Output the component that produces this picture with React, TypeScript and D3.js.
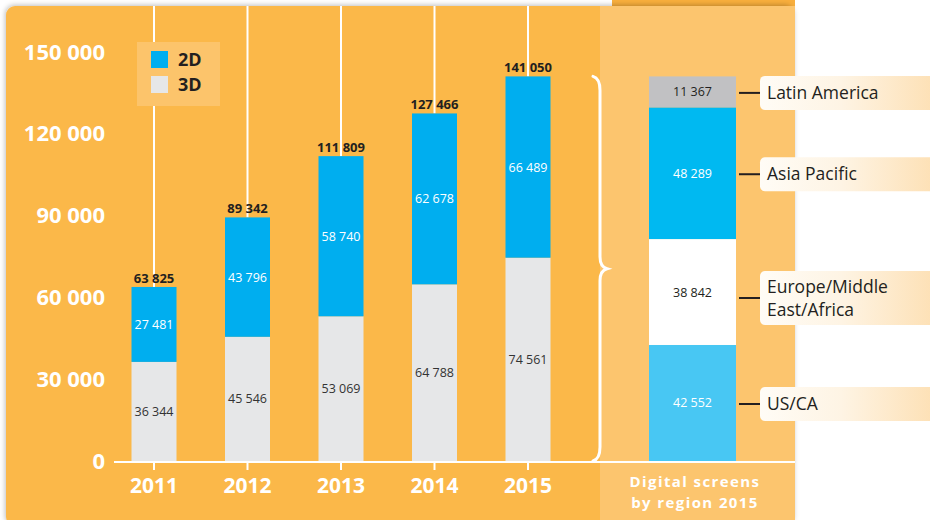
import * as d3 from "d3";

const years = ["2011", "2012", "2013", "2014", "2015"];
const values3D = [36344, 45546, 53069, 64788, 74561];
const values2D = [27481, 43796, 58740, 62678, 66489];
const yTicks = [0, 30000, 60000, 90000, 120000, 150000];

// 2015 split by region, bottom to top
const regions = ["US/CA", "Europe/Middle East/Africa", "Asia Pacific", "Latin America"];
const regionLines = [["US/CA"], ["Europe/Middle", "East/Africa"], ["Asia Pacific"], ["Latin America"]];
const regionValues = [42552, 38842, 48289, 11367];
const regionColors = ["#48C7F3", "#FFFFFF", "#00B9F1", "#C1C1C3"];
const regionText = ["#FFFFFF", "#231F20", "#FFFFFF", "#231F20"];
const panelTitle = ["Digital screens", "by region 2015"];

const ORANGE = "#FBB84A";
const LIGHT = "#FCC56E";
const BLUE = "#00AEEF";
const GREY = "#E6E7E8";
const DARK = "#231F20";
const FONT = "'Open Sans', sans-serif";

const fmt = d3.formatLocale({ decimal: ".", thousands: " ", grouping: [3], currency: ["", ""] }).format(",");

export default function App() {
  const width = 930;
  const height = 520;

  const x = d3.scalePoint<string>().domain(years).range([154, 528]);
  const y = d3.scaleLinear().domain([0, 150000]).range([461, 52]);
  const barW = 45;

  const totals = years.map((_, i) => values3D[i] + values2D[i]);
  const regionStack = d3.stack<number[]>().keys(regions.map((_, i) => String(i))).value((d, k) => d[+k])([regionValues]);

  const bx0 = 649;
  const bx1 = 736;
  const top = y(d3.sum(regionValues));
  const bottom = y(0);
  const mid = (top + bottom) / 2;
  const bxc = 600;
  const brace = `M593,${top} Q${bxc},${top + 2} ${bxc},${top + 14} L${bxc},${mid - 12} Q${bxc},${mid - 2} 607,${mid} Q${bxc},${mid + 2} ${bxc},${mid + 12} L${bxc},${bottom - 14} Q${bxc},${bottom - 2} 593,${bottom}`;

  return (
    <div style={{ position: "fixed", left: 0, top: 0 }}>
      <svg width={width} height={height} style={{ display: "block", fontFamily: FONT }}>
        <defs>
          <filter id="sh" x="-5%" y="-5%" width="110%" height="110%">
            <feDropShadow dx="-1" dy="-1" stdDeviation="2.5" floodColor="#000" floodOpacity="0.25" />
          </filter>
          <linearGradient id="lbl" x1="0" x2="1" y1="0" y2="0">
            <stop offset="0" stopColor="#FFFCF6" />
            <stop offset="0.45" stopColor="#FEF4E4" />
            <stop offset="1" stopColor="#FDDFB2" />
          </linearGradient>
        </defs>
        <rect width={width} height={height} fill="#fff" />
        <rect x={612} y={0} width={183} height={8} fill="#F8AE3C" />
        <rect x={6} y={6} width={789} height={520} rx={9} fill={ORANGE} filter="url(#sh)" />
        <rect x={600} y={6} width={195} height={514} fill={LIGHT} />

        {/* gridlines up to bar tops */}
        {years.map((yr, i) => (
          <line key={yr} x1={x(yr)} x2={x(yr)} y1={6} y2={y(totals[i])} stroke="#fff" strokeWidth={2} />
        ))}

        {/* legend */}
        <rect x={137} y={42} width={83} height={64} fill="#FCC46B" />
        <rect x={151} y={51} width={17} height={17} fill={BLUE} />
        <rect x={151} y={76} width={17} height={17} fill={GREY} />
        <text x={178} y={66} fontSize={18} fontWeight={700} fill={DARK}>2D</text>
        <text x={178} y={91} fontSize={18} fontWeight={700} fill={DARK}>3D</text>

        {/* y axis labels */}
        {yTicks.map((t) => (
          <text key={t} x={105} y={y(t) + 7.5} textAnchor="end" fontSize={22} fontWeight={700} fill="#fff">
            {fmt(t)}
          </text>
        ))}

        {/* bars */}
        {years.map((yr, i) => {
          const cx = x(yr) as number;
          const y3 = y(values3D[i]);
          const yt = y(totals[i]);
          return (
            <g key={yr}>
              <rect x={cx - barW / 2} y={y3} width={barW} height={y(0) - y3} fill={GREY} />
              <rect x={cx - barW / 2} y={yt} width={barW} height={y3 - yt} fill={BLUE} />
              <text x={cx} y={(y3 + y(0)) / 2 + 4.5} textAnchor="middle" fontSize={12.5} fill="#333">{fmt(values3D[i])}</text>
              <text x={cx} y={(yt + y3) / 2 + 4.5} textAnchor="middle" fontSize={12.5} fill="#fff">{fmt(values2D[i])}</text>
              <text x={cx} y={yt - 4} textAnchor="middle" fontSize={13} fontWeight={700} fill={DARK}>{fmt(totals[i])}</text>
            </g>
          );
        })}

        {/* x axis */}
        <line x1={114} x2={795} y1={y(0) + 1} y2={y(0) + 1} stroke="#fff" strokeWidth={2} />
        {years.map((yr) => (
          <g key={yr}>
            <line x1={x(yr)} x2={x(yr)} y1={y(0)} y2={y(0) + 9} stroke="#fff" strokeWidth={2} />
            <text x={x(yr)} y={493} textAnchor="middle" fontSize={21} fontWeight={700} fill="#fff">{yr}</text>
          </g>
        ))}

        {/* brace */}
        <path d={brace} fill="none" stroke="#fff" strokeWidth={3} strokeLinecap="round" />

        {/* region bar */}
        {regionStack.map((s, i) => {
          const [v0, v1] = s[0];
          const yTop = y(v1);
          const yBot = y(v0);
          const ym = (yTop + yBot) / 2;
          const lines = regionLines[i];
          const boxH = lines.length > 1 ? 54 : 34;
          const lineY = lines.length > 1 ? ym + 6 : ym + 1;
          return (
            <g key={regions[i]}>
              <rect x={bx0} y={yTop} width={bx1 - bx0} height={yBot - yTop} fill={regionColors[i]} />
              <text x={(bx0 + bx1) / 2} y={ym + 4.5} textAnchor="middle" fontSize={12.5} fill={regionText[i]}>
                {fmt(regionValues[i])}
              </text>
              <line x1={739} x2={760} y1={lineY} y2={lineY} stroke={DARK} strokeWidth={2} />
              <rect x={760} y={lineY - boxH / 2} width={180} height={boxH} rx={5} fill="url(#lbl)" />
              <text x={767} y={lineY + 6 - (lines.length - 1) * 11.5} fontSize={17.5} fill={DARK}>
                {lines.map((ln, j) => (
                  <tspan key={ln} x={767} dy={j === 0 ? 0 : 23}>{ln}</tspan>
                ))}
              </text>
            </g>
          );
        })}

        <text x={695} y={487} textAnchor="middle" fontSize={15} fontWeight={700} letterSpacing={1.4} fill="#fff">
          {panelTitle.map((ln, j) => (
            <tspan key={ln} x={695} dy={j === 0 ? 0 : 21}>{ln}</tspan>
          ))}
        </text>
      </svg>
    </div>
  );
}
